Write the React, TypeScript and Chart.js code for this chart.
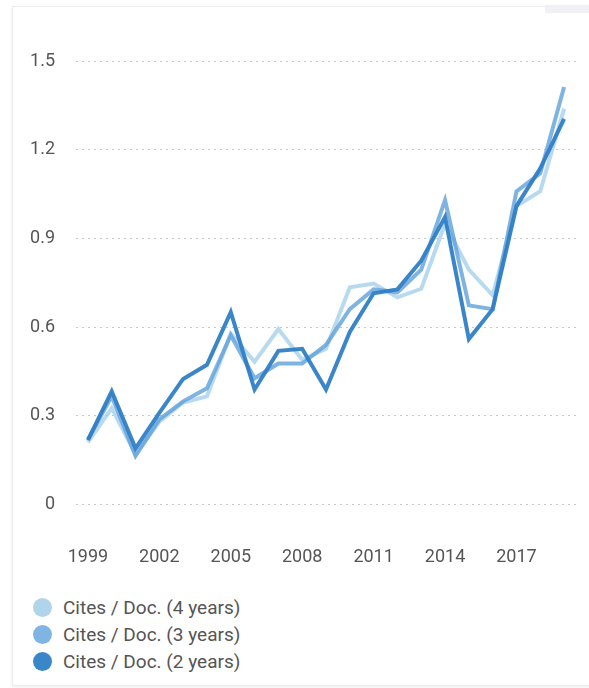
import { useEffect, useRef } from 'react';
import { Chart, registerables } from 'chart.js';
Chart.register(...registerables);

const years = ['1999','2000','2001','2002','2003','2004','2005','2006','2007','2008','2009','2010','2011','2012','2013','2014','2015','2016','2017','2018','2019'];
const cites4 = [0.21,0.326,0.17,0.28,0.345,0.366,0.578,0.483,0.594,0.49,0.527,0.735,0.748,0.701,0.73,0.95,0.795,0.708,1.01,1.06,1.34];
const cites3 = [0.22,0.366,0.164,0.288,0.349,0.393,0.573,0.427,0.477,0.477,0.54,0.661,0.728,0.718,0.795,1.03,0.674,0.661,1.06,1.121,1.413];
const cites2 = [0.218,0.383,0.19,0.31,0.425,0.473,0.651,0.389,0.52,0.527,0.389,0.584,0.715,0.728,0.825,0.973,0.56,0.661,1.01,1.138,1.305];
const yTicks = [0, 0.3, 0.6, 0.9, 1.2, 1.5];
const seriesNames = ['Cites / Doc. (4 years)', 'Cites / Doc. (3 years)', 'Cites / Doc. (2 years)'];
const lineColors = ['rgba(160,205,235,0.75)', 'rgba(95,160,218,0.8)', 'rgba(48,126,198,0.95)'];
const legendColors = ['#b0d4ea', '#80b4e2', '#3986c9'];

export default function App() {
  const ref = useRef<HTMLCanvasElement>(null);
  useEffect(() => {
    document.body.style.margin = '0';
    const values = [cites4, cites3, cites2];
    const chart = new Chart(ref.current!, {
      type: 'line',
      data: {
        labels: years,
        datasets: values.map((d, i) => ({
          label: seriesNames[i],
          data: d,
          borderColor: lineColors[i],
          backgroundColor: lineColors[i],
          borderWidth: 4,
          pointRadius: 0,
          tension: 0,
          fill: false,
          order: 3 - i,
        })),
      },
      options: {
        animation: false,
        responsive: false,
        layout: { padding: { left: 30, right: 13, top: 24, bottom: 0 } },
        plugins: { legend: { display: false }, tooltip: { enabled: false } },
        scales: {
          x: {
            offset: true,
            grid: { display: false, drawTicks: false },
            border: { display: false },
            ticks: {
              autoSkip: false,
              maxRotation: 0,
              padding: 13,
              color: '#555',
              font: { family: 'Roboto', size: 18 },
              callback: (_v: any, idx: number) => (idx % 3 === 0 ? years[idx] : ''),
            },
            afterFit: (s: any) => { s.height = 36; },
          },
          y: {
            min: -0.1,
            max: 1.6,
            afterBuildTicks: (s: any) => { s.ticks = yTicks.map((v) => ({ value: v })); },
            grid: { color: '#c8c8c8', lineWidth: 1, drawTicks: false },
            border: { display: false, dash: [2, 4] },
            ticks: {
              padding: 21,
              color: '#555',
              font: { family: 'Roboto', size: 18 },
              callback: (v: any) => (v === 0 ? '0' : Number(v).toFixed(1)),
            },
            afterFit: (s: any) => { s.width = 46; },
          },
        },
      },
    });
    return () => chart.destroy();
  }, []);

  return (
    <div style={{ position: 'relative', width: 589, height: 688, overflow: 'hidden', fontFamily: 'Roboto', background: '#fff' }}>
      <div style={{ position: 'absolute', left: 12, top: 6, width: 620, height: 678, border: '1px solid #ececec', boxShadow: '0 1px 3px rgba(0,0,0,0.08)', background: '#fff' }} />
      <div style={{ position: 'absolute', left: 545, top: 5, width: 60, height: 8, background: '#f0f0f5' }} />
      <canvas ref={ref} width={589} height={570} style={{ position: 'absolute', left: 0, top: 0, width: 589, height: 570 }} />
      {seriesNames.map((name, i) => (
        <div key={name} style={{ position: 'absolute', left: 0, top: 594 + i * 27, height: 27, width: 300 }}>
          <div style={{ position: 'absolute', left: 33, top: 4, width: 19, height: 19, borderRadius: '50%', background: legendColors[i] }} />
          <div style={{ position: 'absolute', left: 63, top: 0, height: 27, lineHeight: '27px', fontSize: 19, color: '#555', whiteSpace: 'nowrap' }}>{name}</div>
        </div>
      ))}
    </div>
  );
}
